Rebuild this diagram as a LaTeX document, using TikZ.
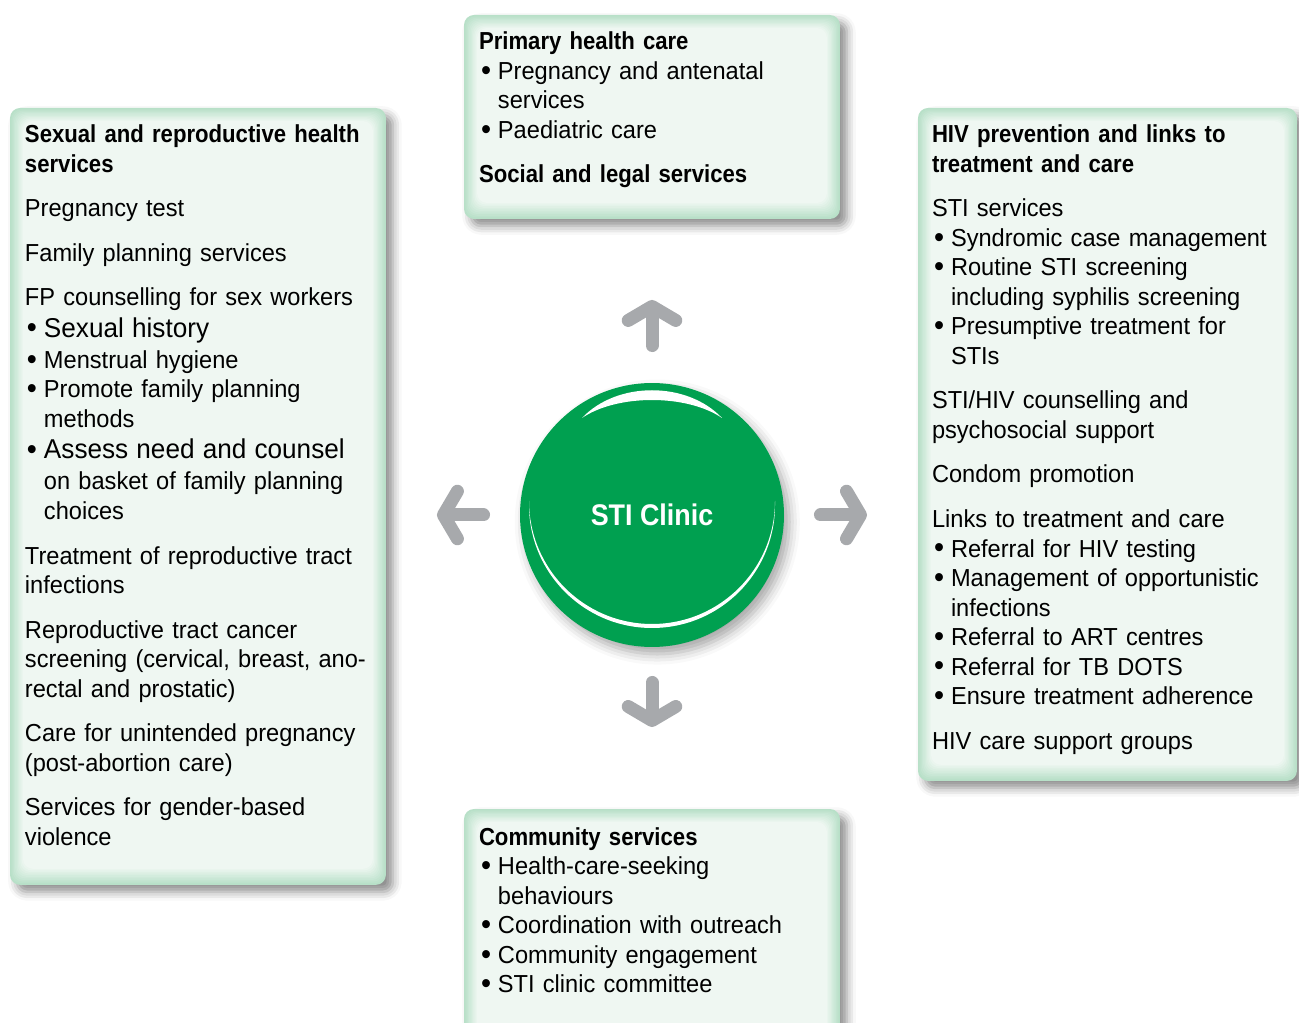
\documentclass[tikz,border=0pt]{standalone}
\usepackage{fontspec}
\setmainfont{Liberation Sans}[FakeStretch=0.96,BoldFeatures={FakeStretch=0.9}]
\usepackage{xcolor}
\usepackage{tikz}
\usetikzlibrary{positioning,calc,arrows.meta,shadows.blur}

\definecolor{panelpale}{HTML}{EFF7F2}
\definecolor{panelgreen}{HTML}{B8E0C8}
\definecolor{clinicgreen}{HTML}{00A050}
\definecolor{arrowgray}{HTML}{A7A9AC}

\newcommand{\bul}{\makebox[0.38cm][l]{\hspace{0.04cm}\raisebox{-0.4pt}{\fontsize{17}{16.8}\selectfont\textbullet}}}
\newcommand{\ind}{\hspace*{0.38cm}}
\newcommand{\pgap}{\\[0.3cm]}
\newcommand{\panelglow}[1]{%
  \foreach \k in {1,...,10}
    \fill[panelpale!\k0!panelgreen, rounded corners=0.2cm]
      ($(#1.north west)+(\k*1.3,\k*1.3)$) rectangle ($(#1.south east)-(\k*1.3,\k*1.6)$);}

\begin{document}
\begin{tikzpicture}[x=0.02cm,y=-0.02cm]
            \tikzstyle{panel} = [rectangle, rounded corners=0.2cm, fill=panelgreen, inner sep=0, outer sep=0, anchor=north west,
                                 blur shadow={shadow xshift=4pt, shadow yshift=-4pt, shadow blur radius=5pt, shadow opacity=45}]
            \tikzstyle{list} = [text width=7.5cm, align=left, inner sep=0, outer sep=0, font=\fontsize{14}{16.8}\selectfont]
            \tikzstyle{clinic} = [circle, fill=clinicgreen, minimum size=5.28cm, inner sep=0, outer sep=0, text=white,
                                  font=\bfseries\fontsize{17}{20}\selectfont,
                                  blur shadow={shadow xshift=3pt, shadow yshift=-4pt, shadow blur radius=6pt, shadow opacity=35}]
            \tikzstyle{flow} = [draw=arrowgray, line width=0.26cm, line cap=round, -{Straight Barb[length=0.28cm, width=0.95cm, round]}]

            \useasboundingbox (0,0) rectangle (1299,1023);

            % the four service panels
            \node [panel, minimum width=7.52cm, minimum height=15.54cm] (srh) at (10,108) {};
            \node [panel, minimum width=7.52cm, minimum height=4.08cm] (phc) at (464,15) {};
            \node [panel, minimum width=7.58cm, minimum height=13.46cm] (hiv) at (918,108) {};
            \node [panel, minimum width=7.52cm, minimum height=4.8cm] (comm) at (464,809) {};
            \panelglow{srh}
            \panelglow{phc}
            \panelglow{hiv}
            \panelglow{comm}

            \node [list, below right=0.34cm and 0.3cm of srh.north west] (srhtext) {%
              \textbf{Sexual and reproductive health\\ services}\pgap
              Pregnancy test\pgap
              Family planning services\pgap
              FP counselling for sex workers\\[1pt]
              \bul{\fontsize{15.5}{16.8}\selectfont Sexual history}\\[1pt]
              \bul Menstrual hygiene\\
              \bul Promote family planning\\
              \ind methods\\[1pt]
              \bul{\fontsize{15.5}{16.8}\selectfont Assess need and counsel}\\[1pt]
              \ind on basket of family planning\\
              \ind choices\pgap
              Treatment of reproductive tract\\
              infections\pgap
              Reproductive tract cancer\\
              screening (cervical, breast, ano-\\
              rectal and prostatic)\pgap
              Care for unintended pregnancy\\
              (post-abortion care)\pgap
              Services for gender-based\\
              violence};
            \node [list, below right=0.34cm and 0.3cm of phc.north west] (phctext) {%
              \textbf{Primary health care}\\
              \bul Pregnancy and antenatal\\
              \ind services\\
              \bul Paediatric care\pgap
              \textbf{Social and legal services}};
            \node [list, below right=0.34cm and 0.28cm of hiv.north west] (hivtext) {%
              \textbf{HIV prevention and links to\\ treatment and care}\pgap
              STI services\\
              \bul Syndromic case management\\
              \bul Routine STI screening\\
              \ind including syphilis screening\\
              \bul Presumptive treatment for\\
              \ind STIs\pgap
              STI/HIV counselling and\\
              psychosocial support\pgap
              Condom promotion\pgap
              Links to treatment and care\\
              \bul Referral for HIV testing\\
              \bul Management of opportunistic\\
              \ind infections\\
              \bul Referral to ART centres\\
              \bul Referral for TB DOTS\\
              \bul Ensure treatment adherence\pgap
              HIV care support groups};
            \node [list, below right=0.37cm and 0.3cm of comm.north west] (commtext) {%
              \textbf{Community services}\\
              \bul Health-care-seeking\\
              \ind behaviours\\
              \bul Coordination with outreach\\
              \bul Community engagement\\
              \bul STI clinic committee};

            % the clinic in the middle
            \node [clinic] (clinic) at (652,515) {STI Clinic};
            \fill [white] ($(clinic)+(-70,-97)$) .. controls ($(clinic)+(-35,-134)$) and ($(clinic)+(35,-134)$) .. ($(clinic)+(70,-97)$)
                  .. controls ($(clinic)+(35,-121)$) and ($(clinic)+(-35,-121)$) .. cycle;
            \fill [white] ($(clinic)+(0,-10)+(0:123)$) arc[start angle=0, end angle=180, radius=123]
                  -- ($(clinic)+(0,-14)+(180:123)$) arc[start angle=180, end angle=0, radius=123] -- cycle;

            \draw [flow, shorten <=0.75cm, shorten >=1.62cm] (clinic) -- (clinic |- phc.south);
            \draw [flow, shorten <=0.73cm, shorten >=1.02cm] (clinic) -- (clinic -| srh.east);
            \draw [flow, shorten <=0.73cm, shorten >=1.02cm] (clinic) -- (clinic -| hiv.west);
            \draw [flow, shorten <=0.71cm, shorten >=1.64cm] (clinic) -- (clinic |- comm.north);
\end{tikzpicture}
\end{document}
